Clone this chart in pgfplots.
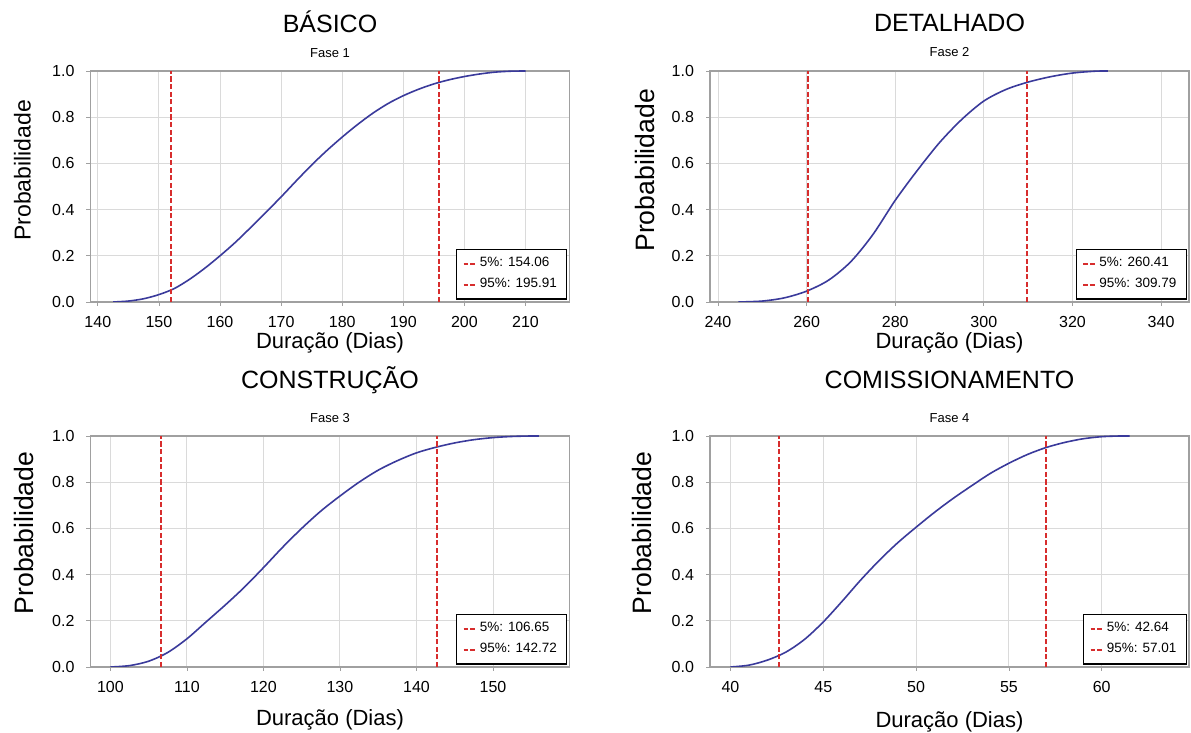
\documentclass[border=0pt]{standalone}
\usepackage{fontspec}
\setmainfont{Liberation Sans}
\usepackage{pgfplots}
\pgfplotsset{compat=1.18}

\definecolor{curve}{RGB}{58,58,155}
\definecolor{pctA}{RGB}{215,45,45}
\definecolor{axgray}{RGB}{160,160,160}
\definecolor{gridgray}{RGB}{218,218,218}

\pgfplotsset{
  panel/.style={
    scale only axis, width=239.5pt, height=115.5pt, anchor=south west,
    ymin=0, ymax=1, ytick={0,0.2,0.4,0.6,0.8,1},
    /pgf/number format/assume math mode=true,
    yticklabel style={/pgf/number format/fixed, /pgf/number format/fixed zerofill, /pgf/number format/precision=1, xshift=-2.5pt},
    xticklabel style={yshift=-1.5pt},
    tick label style={font=\fontsize{8}{9}\selectfont},
    grid=major, major grid style={draw=gridgray, line width=0.45pt},
    axis line style={draw=axgray, line width=0.7pt},
    tick align=outside, major tick length=2pt, tick style={draw=axgray, line width=0.4pt},
    xtick pos=lower, ytick pos=left,
    xlabel={Duração (Dias)}, ylabel={Probabilidade},
    xlabel style={font=\fontsize{11}{13}\selectfont, anchor=center},
    ylabel style={anchor=center},
    legend style={at={(1,0)}, anchor=south east, xshift=-1pt, yshift=1.2pt,
      draw=black, line width=0.6pt, fill=white,
      font=\fontsize{6.75}{8}\selectfont,
      inner xsep=3pt, inner ysep=2pt, row sep=0.3pt},
    legend cell align=left,
    legend image code/.code={\draw[draw=pctA, line width=0.8pt, dash pattern=on 2.3pt off 1.1pt] (0pt,0pt) -- (5.7pt,0pt);},
  },
  ecdf/.style={draw=curve, line width=0.8pt, smooth, tension=0.5, no marks},
  pline/.style={draw=pctA, line width=1pt, dash pattern=on 2.6pt off 1.2pt, no marks},
}

\begin{document}
\begin{tikzpicture}
\path[use as bounding box] (0pt,0pt) rectangle (595.5pt,366.5pt);

% ---------- Panel 1 ----------
\begin{axis}[panel, at={(45.25pt,215.5pt)},
  xmin=138.8, xmax=217.2, xtick={140,150,160,170,180,190,200,210},
  xlabel style={at={(axis description cs:0.5,-0.1775)}},
  ylabel style={at={(axis description cs:-0.142,0.57)}, font=\fontsize{11.5}{13}\selectfont},
  after end axis/.code={
    \node[font=\fontsize{12.5}{14}\selectfont] at (rel axis cs:0.5,1) [yshift=24.5pt] {BÁSICO};
    \node[font=\fontsize{6.5}{8}\selectfont] at (rel axis cs:0.5,1) [yshift=9pt] {Fase 1};
  }]
\addplot[ecdf, forget plot] coordinates {
 (142.5,0) (145,0.004) (147.5,0.014) (150,0.032) (152.5,0.058) (155,0.098)
 (157.5,0.146) (160,0.2) (162.5,0.258) (165,0.322) (167.5,0.388) (170,0.455)
 (172.5,0.525) (175,0.593) (177.5,0.656) (180,0.714) (182.5,0.768) (185,0.817)
 (187.5,0.859) (190,0.893) (192.5,0.921) (195,0.944) (197.5,0.962) (200,0.976)
 (202.5,0.987) (205,0.995) (207.5,0.999) (210,1.0)};
\addplot[pline] coordinates {(152.0,0) (152.0,1)};
\addlegendentry{5\%: 154.06\hspace{19pt}}
\addplot[pline] coordinates {(195.9,0) (195.9,1)};
\addlegendentry{95\%: 195.91\hspace{19pt}}
\end{axis}

% ---------- Panel 2 ----------
\begin{axis}[panel, at={(355pt,215.5pt)},
  xmin=238.2, xmax=346.3, xtick={240,260,280,300,320,340},
  xlabel style={at={(axis description cs:0.5,-0.1775)}},
  ylabel style={at={(axis description cs:-0.136,0.57)}, font=\fontsize{13.3}{15}\selectfont},
  after end axis/.code={
    \node[font=\fontsize{12.5}{14}\selectfont] at (rel axis cs:0.5,1) [yshift=24pt] {DETALHADO};
    \node[font=\fontsize{6.5}{8}\selectfont] at (rel axis cs:0.5,1) [yshift=9.5pt] {Fase 2};
  }]
\addplot[ecdf, forget plot] coordinates {
 (244.6,0) (250,0.004) (255,0.018) (260,0.047) (265,0.095) (270,0.175)
 (275,0.293) (280,0.44) (285,0.57) (290,0.69) (295,0.79) (300,0.87)
 (305,0.92) (310,0.952) (315,0.975) (320,0.991) (325,0.999) (328,1.0)};
\addplot[pline] coordinates {(260.4,0) (260.4,1)};
\addlegendentry{5\%: 260.41\hspace{19pt}}
\addplot[pline] coordinates {(309.8,0) (309.8,1)};
\addlegendentry{95\%: 309.79\hspace{19pt}}
\end{axis}

% ---------- Panel 3 ----------
\begin{axis}[panel, at={(45.25pt,33pt)},
  xmin=97.4, xmax=160, xtick={100,110,120,130,140,150},
  xlabel style={at={(axis description cs:0.5,-0.229)}},
  ylabel style={at={(axis description cs:-0.138,0.58)}, font=\fontsize{13.3}{15}\selectfont},
  after end axis/.code={
    \node[font=\fontsize{12.5}{14}\selectfont] at (rel axis cs:0.5,1) [yshift=28pt] {CONSTRUÇÃO};
    \node[font=\fontsize{6.5}{8}\selectfont] at (rel axis cs:0.5,1) [yshift=9pt] {Fase 3};
  }]
\addplot[ecdf, forget plot] coordinates {
 (100,0) (102.5,0.006) (105,0.025) (107.5,0.063) (110,0.122) (112.5,0.195)
 (115,0.268) (117.5,0.345) (120,0.43) (122.5,0.518) (125,0.6) (127.5,0.675)
 (130,0.74) (132.5,0.8) (135,0.852) (137.5,0.893) (140,0.927) (142.5,0.951)
 (145,0.97) (147.5,0.984) (150,0.993) (152.5,0.998) (155,1.0) (156,1.0)};
\addplot[pline] coordinates {(106.65,0) (106.65,1)};
\addlegendentry{5\%: 106.65\hspace{19pt}}
\addplot[pline] coordinates {(142.72,0) (142.72,1)};
\addlegendentry{95\%: 142.72\hspace{19pt}}
\end{axis}

% ---------- Panel 4 ----------
\begin{axis}[panel, at={(355pt,33pt)},
  xmin=38.9, xmax=64.7, xtick={40,45,50,55,60},
  xlabel style={at={(axis description cs:0.5,-0.238)}},
  ylabel style={at={(axis description cs:-0.143,0.58)}, font=\fontsize{13.3}{15}\selectfont},
  after end axis/.code={
    \node[font=\fontsize{12.5}{14}\selectfont] at (rel axis cs:0.5,1) [yshift=28pt] {COMISSIONAMENTO};
    \node[font=\fontsize{6.5}{8}\selectfont] at (rel axis cs:0.5,1) [yshift=9pt] {Fase 4};
  }]
\addplot[ecdf, forget plot] coordinates {
 (40,0) (41,0.008) (42,0.03) (43,0.065) (44,0.12) (45,0.195) (46,0.283)
 (47,0.375) (48,0.46) (49,0.537) (50,0.605) (51,0.67) (52,0.73) (53,0.785)
 (54,0.838) (55,0.882) (56,0.92) (57,0.95) (58,0.972) (59,0.988) (60,0.997)
 (61,1.0) (61.5,1.0)};
\addplot[pline] coordinates {(42.64,0) (42.64,1)};
\addlegendentry{5\%: 42.64\hspace{19pt}}
\addplot[pline] coordinates {(57.01,0) (57.01,1)};
\addlegendentry{95\%: 57.01\hspace{19pt}}
\end{axis}
\end{tikzpicture}
\end{document}
